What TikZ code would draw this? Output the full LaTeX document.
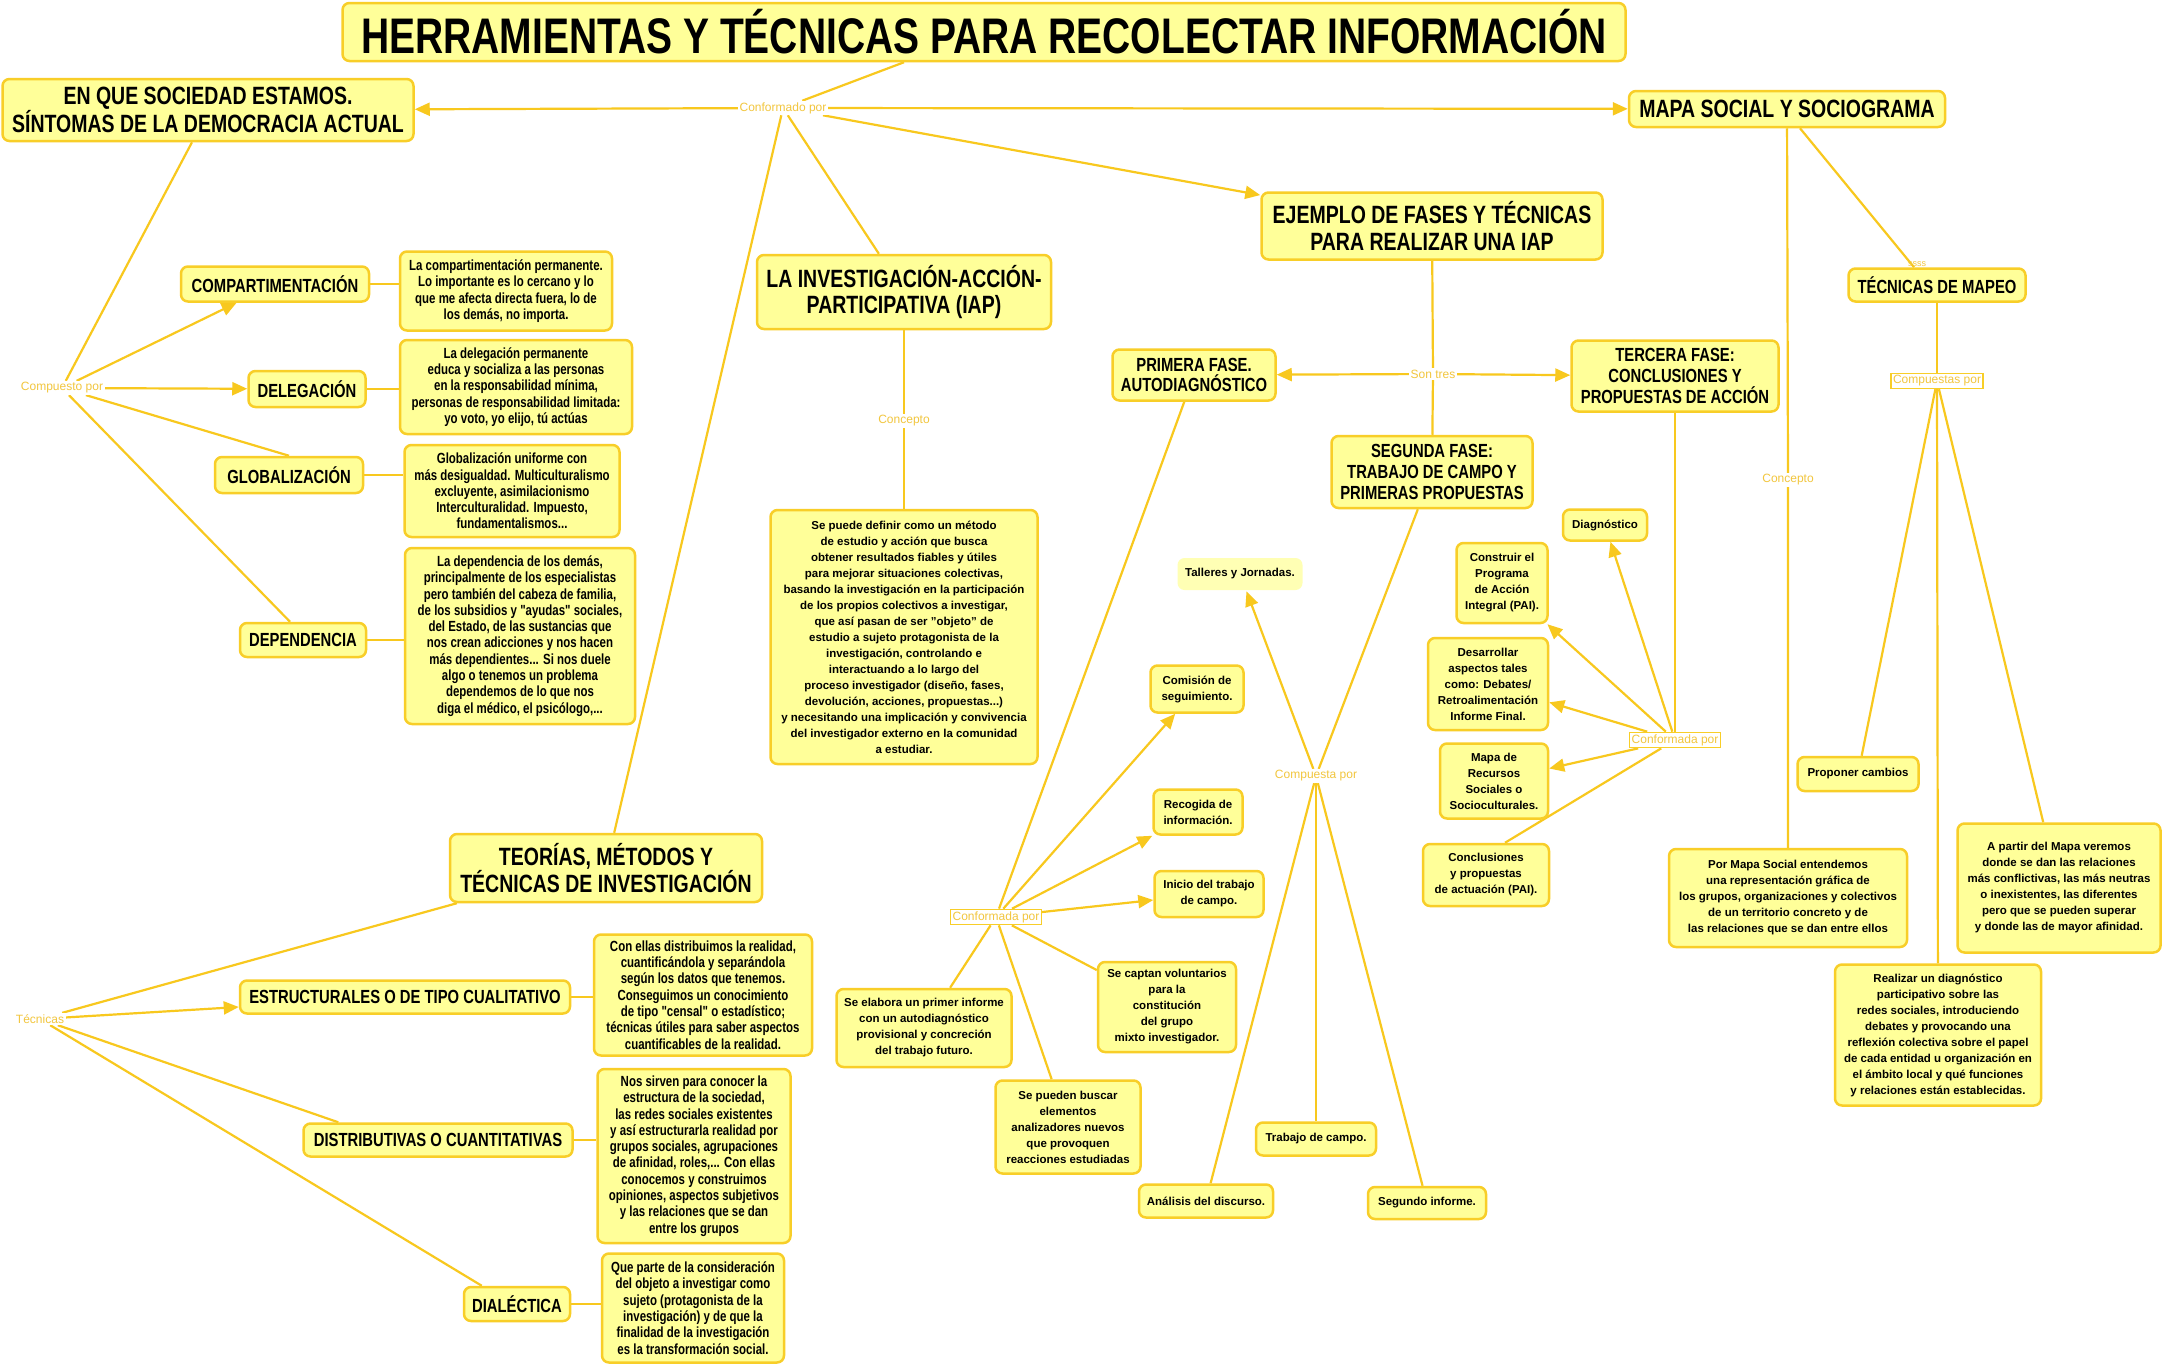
\documentclass[tikz,border=0pt]{standalone}
\usepackage{fontspec}
\setmainfont{Liberation Sans}
\newfontfamily\condf[FakeStretch=0.78]{Liberation Sans}
\usetikzlibrary{arrows.meta,calc}
\pgfdeclarelayer{paper}
\pgfdeclarelayer{bg}
\pgfsetlayers{paper,bg,main}
\definecolor{boxfill}{RGB}{255,255,153}
\definecolor{boxline}{RGB}{248,206,40}
\definecolor{conn}{RGB}{248,200,30}
\definecolor{lbl}{RGB}{242,198,62}
\newcommand{\fhA}{\condf\bfseries\fontsize{25}{26.5}\selectfont}
\newcommand{\fhB}{\condf\bfseries\fontsize{19}{20.7}\selectfont}
\newcommand{\fdL}{\condf\bfseries\fontsize{14.7}{16.3}\selectfont}
\newcommand{\fdM}{\bfseries\fontsize{11.5}{16}\selectfont}
\tikzset{
  box/.style={draw=boxline, line width=2.5pt, fill=boxfill, rounded corners=7pt, align=center, inner sep=3pt, text=black},
  sz/.style 2 args={minimum width=#1pt, minimum height=#2pt},
  lab/.style={text=lbl, fill=white, inner sep=1.5pt, font=\fontsize{12}{13}\selectfont},
  blab/.style={lab, draw=boxline, line width=1.5pt, inner sep=2pt},
  con/.style={draw=conn, line width=2.2pt},
  arr/.style={con, -{Triangle[length=15pt,width=13pt]}}
}
\begin{document}
\begin{tikzpicture}[x=1pt,y=-1pt]
\begin{pgfonlayer}{paper}
\fill[white] (0,0) rectangle (2165,1365);
\end{pgfonlayer}
\useasboundingbox (0,0) rectangle (2165,1365);

% ---- title
\node[box,sz={1283}{58},font=\condf\bfseries\fontsize{50}{52}\selectfont] (title) at (984,32) {HERRAMIENTAS Y TÉCNICAS PARA RECOLECTAR INFORMACIÓN};

% ---- labels
\node[lab] (conf0) at (783,108) {Conformado por};
\node[lab] (compu) at (62,388) {Compuesto por};
\node[lab] (tecn) at (40,1019) {Técnicas};
\node[lab] (conc1) at (904,421) {Concepto};
\node[lab] (sont) at (1433,374) {Son tres};
\node[blab] (conf1) at (996,917) {Conformada por};
\node[lab] (compta) at (1316,776) {Compuesta por};
\node[blab] (conf2) at (1675,740) {Conformada por};
\node[lab] (conc2) at (1788,480) {Concepto};
\node[blab] (comptas) at (1937,381) {Compuestas por};
\node[text=lbl, inner sep=0pt, font=\fontsize{9}{10}\selectfont] (ssss) at (1917,264) {ssss};

% ---- left branch
\node[box,sz={411}{62},font=\fhA] (soc) at (208,110) {EN QUE SOCIEDAD ESTAMOS.\\SÍNTOMAS DE LA DEMOCRACIA ACTUAL};
\node[box,sz={188}{35},font=\fhB] (compart) at (275,284) {COMPARTIMENTACIÓN};
\node[box,sz={212}{79},font=\fdL] (compd) at (506,291) {La compartimentación permanente.\\Lo importante es lo cercano y lo\\que me afecta directa fuera, lo de\\los demás, no importa.};
\node[box,sz={117}{36},font=\fhB] (deleg) at (307,389) {DELEGACIÓN};
\node[box,sz={232}{94},font=\fdL] (delegd) at (516,387) {La delegación permanente\\educa y socializa a las personas\\en la responsabilidad mínima,\\personas de responsabilidad limitada:\\yo voto, yo elijo, tú actúas};
\node[box,sz={148}{36},font=\fhB] (glob) at (289,475) {GLOBALIZACIÓN};
\node[box,sz={215}{92},font=\fdL] (globd) at (512,491) {Globalización uniforme con\\más desigualdad. Multiculturalismo\\excluyente, asimilacionismo\\Interculturalidad. Impuesto,\\fundamentalismos...};
\node[box,sz={126}{34},font=\fhB] (dep) at (303,640) {DEPENDENCIA};
\node[box,sz={230}{176},font=\fdL] (depd) at (520,636) {La dependencia de los demás,\\principalmente de los especialistas\\pero también del cabeza de familia,\\de los subsidios y "ayudas" sociales,\\del Estado, de las sustancias que\\nos crean adicciones y nos hacen\\más dependientes... Si nos duele\\algo o tenemos un problema\\dependemos de lo que nos\\diga el médico, el psicólogo,...};

% ---- teorias
\node[box,sz={312}{68},font=\fhA] (teo) at (606,868) {TEORÍAS, MÉTODOS Y\\TÉCNICAS DE INVESTIGACIÓN};
\node[box,sz={330}{33},font=\fhB] (estr) at (405,997) {ESTRUCTURALES O DE TIPO CUALITATIVO};
\node[box,sz={218}{121},font=\fdL] (estrd) at (703,995) {Con ellas distribuimos la realidad,\\cuantificándola y separándola\\según los datos que tenemos.\\Conseguimos un conocimiento\\de tipo "censal" o estadístico;\\técnicas útiles para saber aspectos\\cuantificables de la realidad.};
\node[box,sz={269}{33},font=\fhB] (dist) at (438,1140) {DISTRIBUTIVAS O CUANTITATIVAS};
\node[box,sz={193}{174},font=\fdL] (distd) at (694,1156) {Nos sirven para conocer la\\estructura de la sociedad,\\las redes sociales existentes\\y así estructurarla realidad por\\grupos sociales, agrupaciones\\de afinidad, roles,... Con ellas\\conocemos y construimos\\opiniones, aspectos subjetivos\\y las relaciones que se dan\\entre los grupos};
\node[box,sz={106}{34},font=\fhB] (dial) at (517,1304) {DIALÉCTICA};
\node[box,sz={182}{109},font=\fdL] (diald) at (693,1308) {Que parte de la consideración\\del objeto a investigar como\\sujeto (protagonista de la\\investigación) y de que la\\finalidad de la investigación\\es la transformación social.};

% ---- IAP
\node[box,sz={294}{74},font=\fhA] (iap) at (904,292) {LA INVESTIGACIÓN-ACCIÓN-\\PARTICIPATIVA (IAP)};
\node[box,sz={267}{254},font=\fdM] (iapd) at (904,637) {Se puede definir como un método\\de estudio y acción que busca\\obtener resultados fiables y útiles\\para mejorar situaciones colectivas,\\basando la investigación en la participación\\de los propios colectivos a investigar,\\que así pasan de ser "objeto" de\\estudio a sujeto protagonista de la\\investigación, controlando e\\interactuando a lo largo del\\proceso investigador (diseño, fases,\\devolución, acciones, propuestas...)\\y necesitando una implicación y convivencia\\del investigador externo en la comunidad\\a estudiar.};

% ---- ejemplo
\node[box,sz={341}{67},font=\fhA] (ejem) at (1432,226) {EJEMPLO DE FASES Y TÉCNICAS\\PARA REALIZAR UNA IAP};
\node[box,sz={163}{51},font=\fhB] (prim) at (1194,375) {PRIMERA FASE.\\AUTODIAGNÓSTICO};
\node[box,sz={207}{71},font=\fhB] (terc) at (1675,376) {TERCERA FASE:\\CONCLUSIONES Y\\PROPUESTAS DE ACCIÓN};
\node[box,sz={201}{72},font=\fhB] (seg) at (1432,472) {SEGUNDA FASE:\\TRABAJO DE CAMPO Y\\PRIMERAS PROPUESTAS};

\node[box,sz={93}{47},font=\fdM] (comis) at (1197,689) {Comisión de\\seguimiento.};
\node[box,sz={89}{45},font=\fdM] (recog) at (1198,812) {Recogida de\\información.};
\node[box,sz={109}{46},font=\fdM] (inicio) at (1209,894) {Inicio del trabajo\\de campo.};
\node[box,sz={138}{90},font=\fdM] (captan) at (1167,1007) {Se captan voluntarios\\para la\\constitución\\del grupo\\mixto investigador.};
\node[box,sz={175}{78},font=\fdM] (elabora) at (924,1028) {Se elabora un primer informe\\con un autodiagnóstico\\provisional y concreción\\del trabajo futuro.};
\node[box,sz={145}{93},font=\fdM] (buscar) at (1068,1127) {Se pueden buscar\\elementos\\analizadores nuevos\\que provoquen\\reacciones estudiadas};

\node[box,draw=none,fill={rgb,255:red,255;green,255;blue,180},sz={125}{32},font=\fdM] (talleres) at (1240,574) {Talleres y Jornadas.};
\node[box,sz={134}{33},font=\fdM] (analisis) at (1206,1201) {Análisis del discurso.};
\node[box,sz={120}{33},font=\fdM] (trabajo) at (1316,1139) {Trabajo de campo.};
\node[box,sz={118}{32},font=\fdM] (segundo) at (1427,1203) {Segundo informe.};

\node[box,sz={84}{31},font=\fdM] (diag) at (1605,525) {Diagnóstico};
\node[box,sz={91}{80},font=\fdM] (constr) at (1502,583) {Construir el\\Programa\\de Acción\\Integral (PAI).};
\node[box,sz={120}{92},font=\fdM] (desarr) at (1488,684) {Desarrollar\\aspectos tales\\como: Debates/\\Retroalimentación\\Informe Final.};
\node[box,sz={108}{75},font=\fdM] (recur) at (1494,781) {Mapa de\\Recursos\\Sociales o\\Socioculturales.};
\node[box,sz={126}{62},font=\fdM] (concl) at (1486,875) {Conclusiones\\y propuestas\\de actuación (PAI).};

% ---- mapa social
\node[box,sz={316}{36},font=\fhA] (mapa) at (1787,109) {MAPA SOCIAL Y SOCIOGRAMA};
\node[box,sz={177}{33},font=\fhB] (mapeo) at (1937,285) {TÉCNICAS DE MAPEO};
\node[box,sz={121}{34},font=\fdM] (proponer) at (1858,774) {Proponer cambios};
\node[box,sz={238}{98},font=\fdM] (pormapa) at (1788,898) {Por Mapa Social entendemos\\una representación gráfica de\\los grupos, organizaciones y colectivos\\de un territorio concreto y de\\las relaciones que se dan entre ellos};
\node[box,sz={203}{129},font=\fdM] (apartir) at (2059,888) {A partir del Mapa veremos\\donde se dan las relaciones\\más conflictivas, las más neutras\\o inexistentes, las diferentes\\pero que se pueden superar\\y donde las de mayor afinidad.};
\node[box,sz={206}{141},font=\fdM] (realizar) at (1938,1035) {Realizar un diagnóstico\\participativo sobre las\\redes sociales, introduciendo\\debates y provocando una\\reflexión colectiva sobre el papel\\de cada entidad u organización en\\el ámbito local y qué funciones\\y relaciones están establecidas.};

% ---- connectors
\begin{pgfonlayer}{bg}
\draw[con] ([xshift=-80pt]title.south) -- (conf0);
\draw[arr] (conf0) -- (soc);
\draw[arr] (conf0) -- (mapa);
\draw[con] (conf0) -- (iap);
\draw[con] (conf0) -- (teo);
\draw[arr] (conf0) -- (ejem);

\draw[con] ([xshift=-16pt]soc.south) -- (compu);
\draw[arr] (compu) -- (compart);
\draw[arr] (compu) -- (deleg);
\draw[con] (compu) -- (glob.north);
\draw[con] (compu) -- ([xshift=-13pt]dep.north);
\draw[con] (compart.east) -- (compart.east -| compd.west);
\draw[con] (deleg.east) -- (deleg.east -| delegd.west);
\draw[con] (glob.east) -- (glob.east -| globd.west);
\draw[con] (dep.east) -- (dep.east -| depd.west);

\draw[con] (iap) -- (conc1) -- (iapd);

\draw[con] ([xshift=8pt]teo.south west) -- (tecn);
\draw[arr] (tecn) -- (estr);
\draw[con] (tecn) -- ([xshift=36pt]dist.north west);
\draw[con] (tecn) -- ([xshift=19pt]dial.north west);
\draw[con] (estr.east) -- (estr.east -| estrd.west);
\draw[con] (dist.east) -- (dist.east -| distd.west);
\draw[con] (dial.east) -- (dial.east -| diald.west);

\draw[con] (ejem) -- (sont) -- (seg);
\draw[arr] (sont) -- (prim);
\draw[arr] (sont) -- (terc);

\draw[con] (prim) -- (conf1);
\draw[arr] (conf1) -- (comis);
\draw[arr] (conf1) -- (recog);
\draw[arr] (conf1) -- (inicio);
\draw[con] (conf1) -- (captan);
\draw[con] (conf1) -- (elabora);
\draw[con] (conf1) -- (buscar);

\draw[con] (seg) -- (compta);
\draw[arr] (compta) -- (talleres);
\draw[con] (compta) -- (analisis);
\draw[con] (compta) -- (trabajo);
\draw[con] (compta) -- (segundo);

\draw[con] (terc) -- (conf2);
\draw[arr] (conf2) -- (diag);
\draw[arr] (conf2) -- (constr);
\draw[arr] (conf2) -- (desarr);
\draw[arr] (conf2) -- (recur);
\draw[con] (conf2) -- ([xshift=19pt]concl.north);

\draw[con] (mapa) -- (conc2) -- (pormapa);
\draw[con] ([xshift=13pt]mapa.south) -- ([xshift=-23pt]mapeo.north);
\draw[con] (mapeo) -- (comptas);
\draw[con] (comptas) -- (proponer);
\draw[con] (comptas) -- (realizar);
\draw[con] (comptas) -- (apartir);
\end{pgfonlayer}
\end{tikzpicture}
\end{document}
